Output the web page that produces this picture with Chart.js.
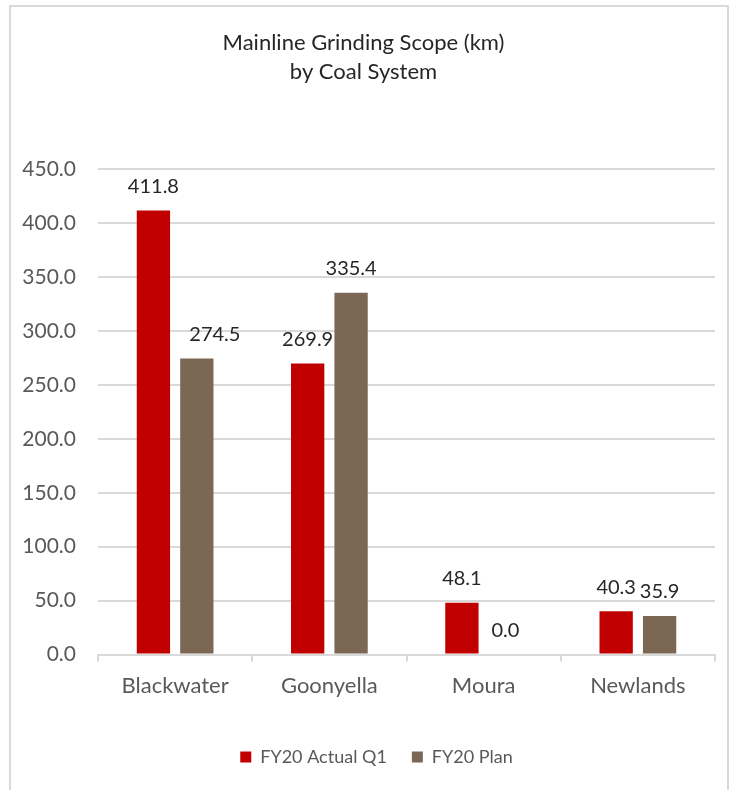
<!DOCTYPE html>
<html>
<head>
<meta charset="utf-8">
<script src="https://cdn.jsdelivr.net/npm/chart.js@4.4.1/dist/chart.umd.min.js"></script>
<style>
  html, body { margin: 0; padding: 0; background: #fff; }
  #wrap { position: relative; width: 734px; height: 790px; }
  #frame {
    position: absolute; left: 9px; top: 5px; width: 720px; height: 800px;
    border: 2px solid #d9d9d9; border-bottom: none; box-sizing: border-box;
  }
  #chart { position: absolute; left: 0; top: 0; }
</style>
</head>
<body>
<div id="wrap">
  <div id="frame"></div>
  <canvas id="chart" width="734" height="790"></canvas>
</div>
<script>
// coal systems and grinding scope (km)
const systems = ['Blackwater', 'Goonyella', 'Moura', 'Newlands'];
const actualQ1 = [411.8, 269.9, 48.1, 40.3];
const plan = [274.5, 335.4, 0.0, 35.9];
const yTicks = [0, 50, 100, 150, 200, 250, 300, 350, 400, 450];

const FONT = 'Lato, "Open Sans", sans-serif';

// value labels above each bar; one label is pushed sideways to clear its neighbour
const labelNudge = { '1-0': 18 };
const valueLabels = {
    id: 'valueLabels',
    afterDatasetsDraw(chart) {
        const ctx = chart.ctx;
        ctx.save();
        ctx.font = '20px ' + FONT;
        ctx.fillStyle = '#262626';
        ctx.textAlign = 'center';
        ctx.textBaseline = 'middle';
        chart.data.datasets.forEach(function (ds, di) {
            chart.getDatasetMeta(di).data.forEach(function (bar, i) {
                let dx = labelNudge[di + '-' + i] || 0;
                ctx.fillText(ds.data[i].toFixed(1), bar.x + dx, bar.y - 24);
            });
        });
        ctx.restore();
    }
};

// legend sits a little right of the canvas centre
const legendShift = {
    id: 'legendShift',
    afterLayout(chart) {
        chart.legend.left += 13;
        chart.legend.right += 13;
    }
};

let ctx = document.getElementById('chart').getContext('2d');
window.bar = new Chart(ctx, {
    type: 'bar',
    data: {
        labels: systems,
        datasets: [{
            label: 'FY20 Actual Q1',
            data: actualQ1,
            backgroundColor: '#C00000',
            categoryPercentage: 0.563,
            barPercentage: 0.767
        }, {
            label: 'FY20 Plan',
            data: plan,
            backgroundColor: '#7B6753',
            categoryPercentage: 0.563,
            barPercentage: 0.767
        }]
    },
    options: {
        responsive: false,
        animation: false,
        layout: { padding: { left: 12, right: 19, top: 0, bottom: 14 } },
        plugins: {
            title: {
                display: true,
                text: ['Mainline Grinding Scope (km)', 'by Coal System'],
                color: '#262626',
                font: { family: FONT, size: 22, weight: 'normal', lineHeight: 1.3 },
                padding: { top: 29, bottom: 83 }
            },
            legend: {
                position: 'bottom',
                labels: {
                    color: '#595959',
                    font: { family: FONT, size: 18 },
                    boxWidth: 11,
                    boxHeight: 11,
                    padding: 25
                }
            },
            tooltip: { enabled: false }
        },
        scales: {
            x: {
                grid: {
                    offset: true,
                    drawOnChartArea: false,
                    drawTicks: true,
                    tickLength: 7,
                    color: '#d9d9d9',
                    lineWidth: 2
                },
                border: { color: '#d9d9d9', width: 2 },
                ticks: {
                    color: '#595959',
                    font: { family: FONT, size: 22 },
                    padding: 11
                },
                afterFit: function (scale) { scale.height += 13; }
            },
            y: {
                min: 0,
                max: 450,
                afterBuildTicks: function (scale) {
                    scale.ticks = yTicks.map(function (v) { return { value: v }; });
                },
                afterFit: function (scale) { scale.width = 86; },
                grid: { color: '#d9d9d9', lineWidth: 2, drawTicks: false },
                border: { display: false },
                ticks: {
                    color: '#595959',
                    font: { family: FONT, size: 21 },
                    padding: 22,
                    callback: function (v) { return Number(v).toFixed(1); }
                }
            }
        }
    },
    plugins: [valueLabels, legendShift]
});
</script>
</body>
</html>
